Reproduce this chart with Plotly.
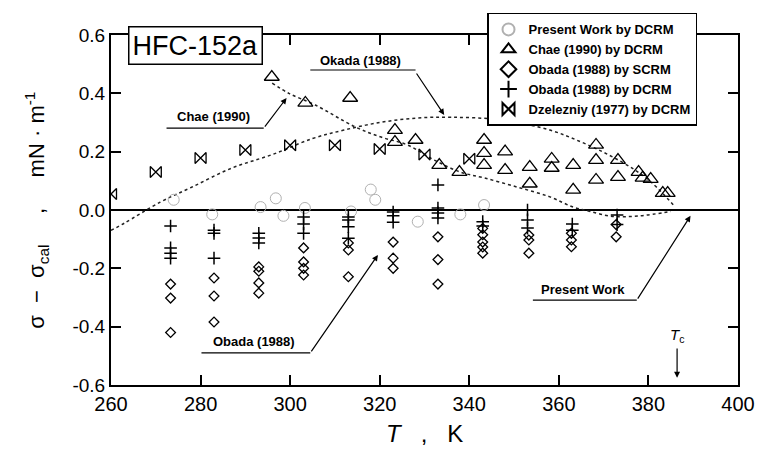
import plotly.graph_objects as go

# ---------------- data ----------------
pw_T = [274, 282.6, 293.4, 296.8, 298.5, 303.3, 313.6, 318, 319, 328.5, 338, 343.3]
pw_y = [0.035, -0.015, 0.01, 0.04, -0.02, 0.007, -0.005, 0.07, 0.035, -0.04, -0.015, 0.017]

chae_T = [295.9, 303.4, 313.4, 323.4, 323.4, 328, 333.3, 337.8,
          343.3, 343.3, 343.3, 348, 348, 353.5, 353.5, 358.4, 358.4,
          363.2, 363.2, 368.3, 368.3, 368.3, 373.2, 373.2, 377.8, 378.7, 380.5, 383.2, 384.3]
chae_y = [0.456, 0.367, 0.384, 0.274, 0.233, 0.24, 0.154, 0.13,
          0.24, 0.195, 0.154, 0.2, 0.137, 0.147, 0.09, 0.175, 0.144,
          0.154, 0.069, 0.223, 0.171, 0.103, 0.171, 0.113, 0.13, 0.11, 0.106, 0.058, 0.058]

obs_T = [273.3, 273.3, 273.3, 283, 283, 283, 293, 293, 293, 293,
         303, 303, 303, 303, 313, 313, 313, 323, 323, 323, 333, 333, 333,
         343, 343, 343, 343, 343, 353.3, 353.3, 353.3, 362.8, 362.8, 362.8, 372.8, 372.8]
obs_y = [-0.254, -0.302, -0.42, -0.233, -0.295, -0.384, -0.195, -0.21, -0.25, -0.285,
         -0.13, -0.178, -0.2, -0.223, -0.113, -0.137, -0.229, -0.11, -0.165, -0.2, -0.092, -0.17, -0.254,
         -0.063, -0.085, -0.11, -0.127, -0.148, -0.086, -0.103, -0.148, -0.08, -0.103, -0.126, -0.05, -0.092]

obd_T = [273.3, 273.3, 273.3, 273.3, 283, 283, 283, 293, 293, 293,
         303, 303, 303, 313, 313, 313, 313, 323, 323, 323, 333, 333, 333, 333,
         343, 343, 353, 353, 353, 363, 363, 373, 373]
obd_y = [-0.055, -0.13, -0.148, -0.165, -0.069, -0.08, -0.165, -0.08, -0.096, -0.113,
         -0.024, -0.048, -0.08, -0.024, -0.034, -0.057, -0.097, -0.007, -0.02, -0.042, 0.086, 0.007, -0.01, -0.027,
         -0.04, -0.055, 0.0, -0.034, -0.062, -0.048, -0.069, -0.017, -0.05]

dz_T = [260, 270, 280, 290, 300, 310, 320, 330, 340]
dz_y = [0.055, 0.13, 0.178, 0.206, 0.222, 0.222, 0.209, 0.19, 0.176]

chae_curve_T = [296, 299.7, 305.6, 314.5, 320.3, 326.2, 332.2, 338, 343.3, 350.6, 358, 363.2, 367, 372, 378, 385]
chae_curve_y = [0.435, 0.40, 0.36, 0.285, 0.25, 0.223, 0.171, 0.13, 0.11, 0.079, 0.045, 0.01, -0.005, -0.022, -0.02, -0.005]

okada_curve_T = [260, 263, 271, 278, 287, 296, 305, 312, 320, 328, 336, 347, 358, 365, 371, 377, 381, 386]
okada_curve_y = [-0.07, -0.045, 0.027, 0.078, 0.144, 0.19, 0.245, 0.274, 0.30, 0.315, 0.318, 0.309, 0.274, 0.233, 0.19, 0.137, 0.09, 0.01]

x_ticks = [260, 280, 300, 320, 340, 360, 380, 400]
y_ticks = [-0.6, -0.4, -0.2, 0.0, 0.2, 0.4, 0.6]
y_ticktext = ["-0.6", "-0.4", "-0.2", "0.0", "0.2", "0.4", "0.6"]

FONT = "Liberation Sans, Arial, sans-serif"

fig = go.Figure()

fig.add_trace(go.Scatter(x=okada_curve_T, y=okada_curve_y, mode="lines", line=dict(color="#222", width=1.5, dash="dot", shape="spline"), showlegend=False, hoverinfo="skip"))
fig.add_trace(go.Scatter(x=chae_curve_T, y=chae_curve_y, mode="lines", line=dict(color="#222", width=1.5, dash="dot", shape="spline"), showlegend=False, hoverinfo="skip"))

fig.add_trace(go.Scatter(x=pw_T, y=pw_y, mode="markers", name="Present Work by DCRM",
                         marker=dict(symbol="circle-open", size=11, color="#b0b0b0", line=dict(width=1))))
fig.add_trace(go.Scatter(x=chae_T, y=chae_y, mode="markers", name="Chae (1990) by DCRM",
                         marker=dict(symbol="triangle-up-open", size=13, color="black", line=dict(width=1.3))))
fig.add_trace(go.Scatter(x=obs_T, y=obs_y, mode="markers", name="Obada (1988) by SCRM",
                         marker=dict(symbol="diamond-open", size=7.5, color="black", line=dict(width=1.3))))
fig.add_trace(go.Scatter(x=obd_T, y=obd_y, mode="markers", name="Obada (1988) by DCRM",
                         marker=dict(symbol="cross-thin-open", size=9, color="black", line=dict(width=1.5))))
fig.add_trace(go.Scatter(x=dz_T, y=dz_y, mode="markers", name="Dzelezniy (1977) by DCRM",
                         marker=dict(symbol="bowtie-open", size=11, color="black", line=dict(width=1.3))))

axis_common = dict(showline=True, linewidth=2, linecolor="black", mirror="allticks",
                   ticks="inside", ticklen=10, tickwidth=1.5, tickcolor="black",
                   showgrid=False)

fig.update_xaxes(range=[260, 400], tickvals=x_ticks, ticktext=[str(v) for v in x_ticks],
                 zeroline=False, tickfont=dict(family=FONT, size=20, color="black"), **axis_common)
fig.update_yaxes(range=[-0.6, 0.6], tickvals=y_ticks, ticktext=y_ticktext,
                 zeroline=True, zerolinecolor="black", zerolinewidth=2,
                 tickfont=dict(family=FONT, size=19, color="black"), **axis_common)

annotations = [
    dict(x=0.1345, y=0.9686, xref="paper", yref="paper", text="HFC-152a", showarrow=False,
         font=dict(family=FONT, size=27, color="black"), bgcolor="white", bordercolor="black",
         borderwidth=1.5, borderpad=3, xanchor="center", yanchor="middle"),
    dict(x=315.8, y=0.514, text="<b>Okada (1988)</b>", showarrow=False, font=dict(family=FONT, size=13, color="black")),
    dict(x=282.8, y=0.322, text="<b>Chae (1990)</b>", showarrow=False, font=dict(family=FONT, size=13, color="black")),
    dict(x=291.9, y=-0.452, text="<b>Obada (1988)</b>", showarrow=False, font=dict(family=FONT, size=13, color="black")),
    dict(x=365.5, y=-0.274, text="<b>Present Work</b>", showarrow=False, font=dict(family=FONT, size=13, color="black")),
    dict(x=386.4, y=-0.43, text="<i>T</i><sub>c</sub>", showarrow=False, font=dict(family=FONT, size=15, color="black")),
    # arrows
    dict(x=334.4, y=0.326, ax=328, ay=0.473, axref="x", ayref="y", text="", showarrow=True, arrowhead=2, arrowwidth=1.2, arrowcolor="black"),
    dict(x=299.2, y=0.384, ax=294.1, ay=0.281, axref="x", ayref="y", text="", showarrow=True, arrowhead=2, arrowwidth=1.2, arrowcolor="black"),
    dict(x=319.6, y=-0.154, ax=304.5, ay=-0.49, axref="x", ayref="y", text="", showarrow=True, arrowhead=2, arrowwidth=1.2, arrowcolor="black"),
    dict(x=389.4, y=-0.02, ax=377.4, ay=-0.309, axref="x", ayref="y", text="", showarrow=True, arrowhead=2, arrowwidth=1.2, arrowcolor="black"),
    dict(x=386.4, y=-0.575, ax=386.4, ay=-0.47, axref="x", ayref="y", text="", showarrow=True, arrowhead=2, arrowwidth=1.2, arrowcolor="black"),
    # axis titles
    dict(x=0.5, y=-0.138, xref="paper", yref="paper", text="<i>T</i>   ,   K", showarrow=False,
         font=dict(family=FONT, size=24, color="black"), xanchor="center", yanchor="middle"),
    dict(x=-0.12, y=0.5, xref="paper", yref="paper", textangle=-90,
         text="σ  −  σ<sub>cal</sub>     ,     mN · m<sup>-1</sup>", showarrow=False,
         font=dict(family=FONT, size=22, color="black"), xanchor="center", yanchor="middle"),
]

shapes = [
    dict(type="line", x0=304.5, x1=328, y0=0.48, y1=0.48, line=dict(color="black", width=1.2)),
    dict(type="line", x0=272.4, x1=294.1, y0=0.281, y1=0.281, line=dict(color="black", width=1.2)),
    dict(type="line", x0=280.2, x1=304.5, y0=-0.49, y1=-0.49, line=dict(color="black", width=1.2)),
    dict(type="line", x0=354.2, x1=377.4, y0=-0.309, y1=-0.309, line=dict(color="black", width=1.2)),
]

fig.update_layout(
    width=767, height=449,
    margin=dict(l=111, r=24, t=35, b=64),
    paper_bgcolor="white", plot_bgcolor="white",
    annotations=annotations, shapes=shapes,
    legend=dict(x=0.5997, y=1.063, xanchor="left", yanchor="top", bgcolor="white",
                bordercolor="black", borderwidth=1.5, font=dict(family=FONT, size=13, color="black", weight="bold"),
                tracegroupgap=0, itemsizing="constant"),
    font=dict(family=FONT),
)

fig.write_html("out.html")
